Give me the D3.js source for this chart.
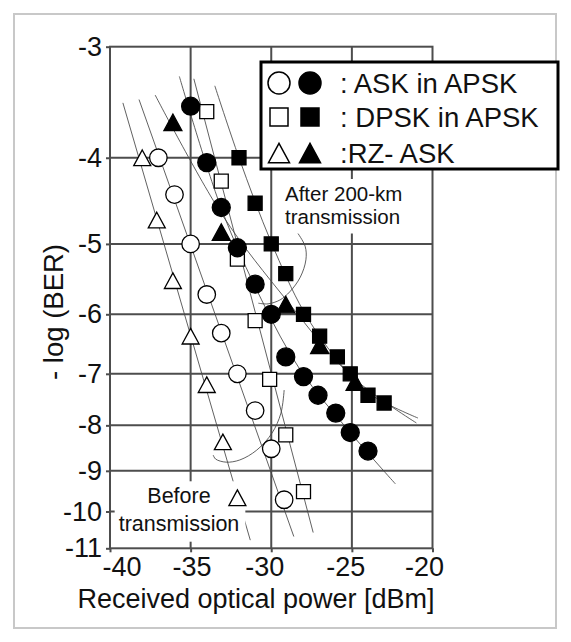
<!DOCTYPE html>
<html>
<head>
<meta charset="utf-8">
<script src="https://cdn.jsdelivr.net/npm/d3@7"></script>
<style>
    body { margin: 0; background: #fff; }
    svg { display: block; font-family: "Liberation Sans", Arial, sans-serif; }
</style>
</head>
<body>
<div id="graph"></div>
<script>
"use strict";

// axis ticks
const xTicks = [-40, -35, -30, -25, -20];
const yTicks = [-3, -4, -5, -6, -7, -8, -9, -10, -11];

// measured points [power dBm, log(BER)]
const askBefore  = [[-37.0, -4.0], [-36.0, -4.4], [-35.0, -5.0], [-34.0, -5.7], [-33.1, -6.3],
                    [-32.1, -7.0], [-31.0, -7.7], [-30.0, -8.5], [-29.2, -9.7]];
const askAfter   = [[-35.0, -3.5], [-34.0, -4.05], [-33.1, -4.55], [-32.1, -5.05], [-31.0, -5.55],
                    [-30.0, -6.0], [-29.1, -6.7], [-28.0, -7.05], [-27.1, -7.4], [-26.0, -7.75],
                    [-25.1, -8.15], [-24.0, -8.55]];
const dpskBefore = [[-34.0, -3.55], [-33.1, -4.25], [-32.1, -5.2], [-31.0, -6.1], [-30.1, -7.1],
                    [-29.1, -8.2], [-28.0, -9.5]];
const dpskAfter  = [[-32.0, -4.0], [-31.0, -4.5], [-30.0, -5.0], [-29.1, -5.4], [-28.0, -6.0],
                    [-27.0, -6.35], [-25.9, -6.7], [-25.1, -7.0], [-24.0, -7.4], [-23.0, -7.55]];
const rzBefore   = [[-38.0, -4.0], [-37.1, -4.7], [-36.1, -5.5], [-35.0, -6.35], [-34.0, -7.2],
                    [-33.0, -8.35], [-32.1, -9.65]];
const rzAfter    = [[-36.1, -3.65], [-33.1, -4.85], [-29.1, -5.85], [-27.0, -6.5], [-24.8, -7.15]];

// fitted curves drawn through the points
const fitRzBefore   = [[-39.2, -3.47], [-31.3, -10.77]];
const fitAskBefore  = [[-38.2, -3.44], [-28.6, -10.67]];
const fitDpskBefore = [[-34.8, -3.26], [-27.4, -10.56]];
const fitAskAfter   = [[-35.7, -3.24], [-33.1, -4.56], [-30.6, -5.78], [-28.2, -6.93],
                       [-25.1, -8.15], [-22.3, -9.31]];
const fitRzAfter    = [[-37.2, -3.4], [-33.0, -4.65], [-29.0, -5.8], [-25.0, -7.05], [-21.0, -7.95]];
const fitDpskAfter  = [[-33.5, -3.32], [-32.0, -4.0], [-30.0, -4.98], [-28.0, -5.95],
                       [-26.0, -6.72], [-24.0, -7.35], [-20.9, -7.85]];

// annotation loops
const afterLoop  = [[-28.4, -4.85], [-27.9, -5.03], [-27.85, -5.21], [-28.2, -5.45],
                    [-28.85, -5.66], [-29.45, -5.78], [-30.2, -5.84], [-30.8, -5.83]];
const beforeLoop = [[-29.2, -7.3], [-29.4, -7.75], [-29.95, -8.16], [-30.9, -8.53],
                    [-31.95, -8.75], [-32.8, -8.8], [-33.45, -8.73], [-33.6, -8.64]];

const legendRows = ["ASK in APSK", "DPSK in APSK", "RZ- ASK"];

(function() {
    const svgSize = { width: 571, height: 642 };
    const plot = { left: 110, right: 432.5, top: 46.7, bottom: 548.3 };
    const gridColor = "#4d4d4d";

    let svg, xScale, yScale;

    window.addEventListener("load", init);

    function init() {
        svg = d3.select("#graph")
            .append("svg")
                .attr("width", svgSize.width)
                .attr("height", svgSize.height);

        svg.append("rect")
            .attr("x", 14).attr("y", 14)
            .attr("width", 542).attr("height", 614)
            .attr("fill", "none")
            .attr("stroke", "#c8c8c8")
            .attr("stroke-width", 2);

        xScale = d3.scaleLinear().domain([-40, -20]).range([plot.left, plot.right]);
        // BER axis: log of -log(BER)
        yScale = d3.scaleLog().domain([-3, -11]).range([plot.top, plot.bottom]);

        drawGrid();
        drawAxis();
        drawFits();
        drawNotes();
        drawPoints();
        drawLegend();
    }

    function drawGrid() {
        let g = svg.append("g");
        g.selectAll("line.h")
            .data(yTicks.slice(1, -1))
            .enter()
            .append("line")
                .attr("x1", plot.left).attr("x2", plot.right)
                .attr("y1", (d) => yScale(d)).attr("y2", (d) => yScale(d));
        g.selectAll("line.v")
            .data(xTicks.slice(1, -1))
            .enter()
            .append("line")
                .attr("y1", plot.top).attr("y2", plot.bottom)
                .attr("x1", (d) => xScale(d)).attr("x2", (d) => xScale(d));
        g.append("rect")
            .attr("x", plot.left).attr("y", plot.top)
            .attr("width", plot.right - plot.left)
            .attr("height", plot.bottom - plot.top)
            .attr("fill", "none");
        g.selectAll("line, rect")
            .attr("stroke", gridColor)
            .attr("stroke-width", 2);
    }

    function drawAxis() {
        const xShift = [11.5, 1, -7, -6.5, -8.5];
        let gx = svg.append("g")
            .attr("transform", "translate(0," + plot.bottom + ")")
            .call(d3.axisBottom(xScale).tickValues(xTicks).tickFormat((d) => String(d))
                .tickSize(4).tickPadding(5));
        gx.selectAll("text").attr("dx", (d, i) => xShift[i]);

        let gy = svg.append("g")
            .attr("transform", "translate(" + plot.left + ",0)")
            .call(d3.axisLeft(yScale).tickValues(yTicks).tickFormat((d) => String(d))
                .tickSize(4).tickPadding(4));

        [gx, gy].forEach((g) => {
            g.select(".domain").remove();
            g.selectAll(".tick line").attr("stroke", gridColor).attr("stroke-width", 2);
            g.selectAll("text")
                .attr("fill", "#111")
                .style("font-size", "27px")
                .style("font-family", "'Liberation Sans', Arial, sans-serif");
        });

        svg.append("text")
            .attr("x", 256).attr("y", 607.5)
            .attr("text-anchor", "middle")
            .style("font-size", "27px")
            .attr("fill", "#111")
            .text("Received optical power [dBm]");

        svg.append("text")
            .attr("transform", "translate(63,312) rotate(-90)")
            .attr("text-anchor", "middle")
            .style("font-size", "27.5px")
            .attr("fill", "#111")
            .text("- log (BER)");
    }

    function drawFits() {
        let line = d3.line()
            .x((d) => xScale(d[0]))
            .y((d) => yScale(d[1]))
            .curve(d3.curveCatmullRom);
        let fits = [fitRzBefore, fitAskBefore, fitDpskBefore, fitAskAfter, fitRzAfter, fitDpskAfter];
        svg.append("g")
            .selectAll("path")
            .data(fits)
            .enter()
            .append("path")
                .attr("d", line)
                .attr("fill", "none")
                .attr("stroke", "#444")
                .attr("stroke-width", 0.85);
    }

    function drawNotes() {
        let line = d3.line()
            .x((d) => xScale(d[0]))
            .y((d) => yScale(d[1]))
            .curve(d3.curveCatmullRom);
        svg.append("g")
            .selectAll("path")
            .data([afterLoop, beforeLoop])
            .enter()
            .append("path")
                .attr("d", line)
                .attr("fill", "none")
                .attr("stroke", "#444")
                .attr("stroke-width", 0.85);

        label(["After 200-km", "transmission"], 285, 201, 22.5, "start", 20.5, [3, 5, 6, 3]);
        label(["Before", "transmission"], 179, 503.3, 27.4, "middle", 21.5, [3, 6, 6, 4]);
    }

    // text lines with a white box behind them (hides grid underneath)
    function label(lines, x, y, step, anchor, size, pad) {
        let g = svg.append("g");
        let t = g.append("text")
            .attr("text-anchor", anchor)
            .style("font-size", size + "px")
            .attr("fill", "#111");
        lines.forEach((s, i) => {
            t.append("tspan").attr("x", x).attr("y", y + i * step).text(s);
        });
        let b = t.node().getBBox();
        g.insert("rect", "text")
            .attr("x", b.x - pad[3]).attr("y", b.y - pad[0])
            .attr("width", b.width + pad[1] + pad[3])
            .attr("height", b.height + pad[0] + pad[2])
            .attr("fill", "#fff");
    }

    function shapePath(shape, size) {
        if (shape === "circle") {
            return d3.symbol(d3.symbolCircle, Math.PI * size * size / 4)();
        }
        if (shape === "square") {
            return d3.symbol(d3.symbolSquare, size * size)();
        }
        let w = size, h = size * 0.92;
        return "M0," + (-h / 2) + "L" + (w / 2) + "," + (h / 2) + "L" + (-w / 2) + "," + (h / 2) + "Z";
    }

    function drawPoints() {
        let series = [
            { data: rzBefore,   shape: "triangle", filled: false, size: 17 },
            { data: askBefore,  shape: "circle",   filled: false, size: 17.5 },
            { data: dpskBefore, shape: "square",   filled: false, size: 14 },
            { data: dpskAfter,  shape: "square",   filled: true,  size: 14 },
            { data: rzAfter,    shape: "triangle", filled: true,  size: 18 },
            { data: askAfter,   shape: "circle",   filled: true,  size: 18 },
        ];
        series.forEach((s) => {
            svg.append("g")
                .selectAll("path")
                .data(s.data)
                .enter()
                .append("path")
                    .attr("transform", (d) => "translate(" + xScale(d[0]) + "," + yScale(d[1]) + ")")
                    .attr("d", shapePath(s.shape, s.size))
                    .attr("fill", s.filled ? "#000" : "#fff")
                    .attr("stroke", "#000")
                    .attr("stroke-width", 1.3);
        });
    }

    function drawLegend() {
        let g = svg.append("g");
        g.append("rect")
            .attr("x", 261).attr("y", 62)
            .attr("width", 297).attr("height", 107)
            .attr("fill", "#fff")
            .attr("stroke", "#000")
            .attr("stroke-width", 3);

        const rowY = [83, 117, 153];
        const shapes = [["circle", 22], ["square", 18], ["triangle", 21]];
        legendRows.forEach((name, i) => {
            [false, true].forEach((filled, j) => {
                g.append("path")
                    .attr("transform", "translate(" + (279 + j * 31) + "," + rowY[i] + ")")
                    .attr("d", shapePath(shapes[i][0], shapes[i][1]))
                    .attr("fill", filled ? "#000" : "#fff")
                    .attr("stroke", "#000")
                    .attr("stroke-width", 1.5);
            });
            g.append("text")
                .attr("x", 340)
                .attr("y", rowY[i] + 9.5)
                .style("font-size", "27.5px")
                .attr("fill", "#111")
                .text(i === 2 ? ":" + name : ": " + name);
        });
    }
})();
</script>
</body>
</html>
